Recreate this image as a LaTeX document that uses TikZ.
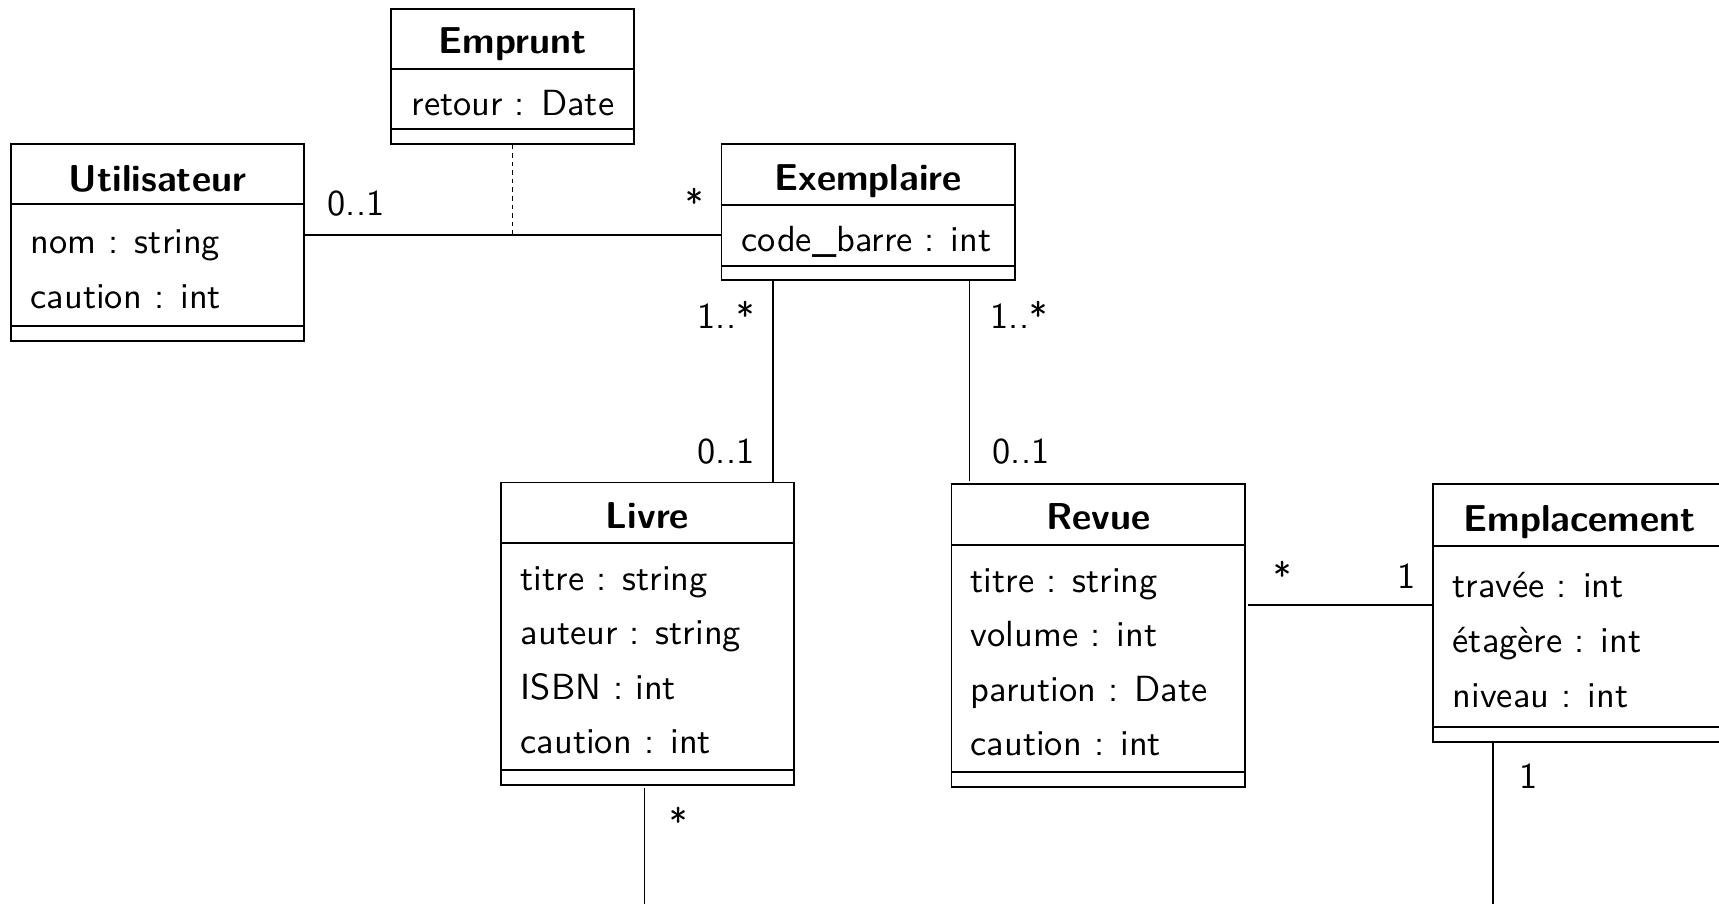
\documentclass[tikz,border=0pt]{standalone}
\usepackage{fontspec}
\usetikzlibrary{fit}

% Class box: name, left, top, right, bottom, title divider, attribute divider
\newcommand\umlclass[7]{%
  \node[classbox, fit={(#2,#3) (#4,#5)}] (#1) {};
  \draw (#1.west |- 0,#6) -- (#1.east |- 0,#6)
        (#1.west |- 0,#7) -- (#1.east |- 0,#7);
}

\begin{document}
\begin{tikzpicture}[x=0.275pt,y=-0.275pt,
  line width=0.4pt,
  classbox/.style={draw, inner sep=0pt},
  ctitle/.style={anchor=base, inner sep=0pt, font=\sffamily\bfseries\fontsize{10.3}{12}\selectfont},
  cattr/.style={anchor=base west, inner sep=0pt, font=\sffamily},
  mult/.style={anchor=base west, inner sep=0pt, font=\sffamily},
  link/.style={draw},
  dashlink/.style={draw, dash pattern=on 1.25pt off 1.1pt}]

\clip (0,0) rectangle (1719,904);

% Utilisateur
\umlclass{util}{11}{144}{304}{341}{204}{326}
\node[ctitle] (util-t) at (157.5,191) {Utilisateur};
\node[cattr] (util-a1) at (30,253) {nom : string};
\node[cattr] (util-a2) at (30,308) {caution : int};

% Emprunt (association class)
\umlclass{emp}{391}{9}{634}{144}{69}{129}
\node[ctitle] (emp-t) at (512.5,53) {Emprunt};
\node[cattr] (emp-a1) at (411,115) {retour : Date};

% Exemplaire
\umlclass{exem}{721.5}{144}{1015}{280}{205}{266}
\node[ctitle] (exem-t) at (868.25,190) {Exemplaire};
\node[cattr] (exem-a1) at (741,251) {code\_barre : int};

% Livre
\umlclass{livre}{501}{482.5}{794}{785}{543}{770}
\node[ctitle] (livre-t) at (647.5,528) {Livre};
\node[cattr] (livre-a1) at (520,590) {titre : string};
\node[cattr] (livre-a2) at (520,644.5) {auteur : string};
\node[cattr] (livre-a3) at (520,699) {ISBN : int};
\node[cattr] (livre-a4) at (520,753.5) {caution : int};

% Revue
\umlclass{revue}{951.5}{484}{1245}{787}{545}{772}
\node[ctitle] (revue-t) at (1098.25,529) {Revue};
\node[cattr] (revue-a1) at (970,592) {titre : string};
\node[cattr] (revue-a2) at (970,646.5) {volume : int};
\node[cattr] (revue-a3) at (970,701) {parution : Date};
\node[cattr] (revue-a4) at (970,755.5) {caution : int};

% Emplacement
\umlclass{empl}{1433}{484}{1726}{742}{546}{727}
\node[ctitle] (empl-t) at (1579.5,531) {Emplacement};
\node[cattr] (empl-a1) at (1452,597) {travée : int};
\node[cattr] (empl-a2) at (1452,652) {étagère : int};
\node[cattr] (empl-a3) at (1452,707) {niveau : int};

% Free ends of the links leaving the drawing
\coordinate (livre-out) at (644.5,904);
\coordinate (empl-out) at (1493,904);
\coordinate (emp-link) at (512.5,235);

% Associations
\draw[link] (util.east |- 0,235) -- (exem.west |- 0,235);
\draw[dashlink] (emp.south) -- (emp-link);
\draw[link] (exem.south -| 773,0) -- (773,481) -- (livre.north -| 773,0);
\draw[link] (exem.south -| 969.5,0) -- (969.5,481);
\draw[link] (1248,605) -- (empl.west |- 0,605);
\draw[link] (644.5,788) -- (livre-out);
\draw[link] (empl.south -| empl-out) -- (empl-out);

% Multiplicities
\node[mult] (m1) at (327,215) {0..1};
\node[mult] (m2) at (685,215) {*};
\node[mult] (m3) at (697,328) {1..*};
\node[mult] (m4) at (697,463) {0..1};
\node[mult] (m5) at (990,328) {1..*};
\node[mult] (m6) at (992,463) {0..1};
\node[mult] (m7) at (1273,588) {*};
\node[mult] (m8) at (1397,588) {1};
\node[mult] (m9) at (1519,788) {1};
\node[mult] (m10) at (669,834) {*};
\end{tikzpicture}
\end{document}
